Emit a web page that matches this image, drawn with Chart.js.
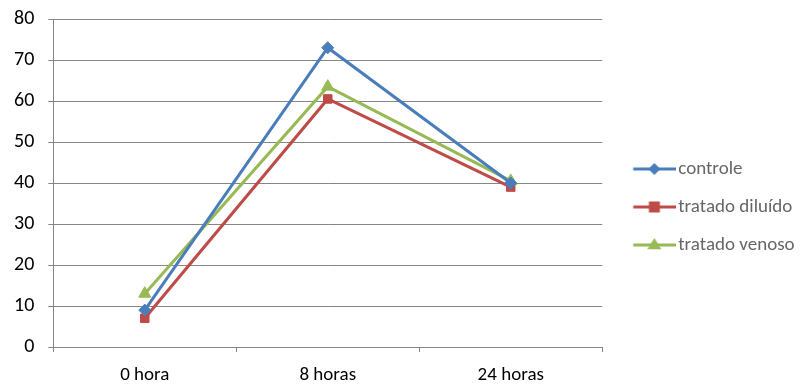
<!DOCTYPE html>
<html><head><meta charset="utf-8">
<script src="https://cdn.jsdelivr.net/npm/chart.js@4/dist/chart.umd.min.js"></script>
<style>html,body{margin:0;padding:0;background:#fff}#wrap{width:803px;height:387px}</style>
</head><body><div id="wrap"><canvas id="c" width="803" height="387"></canvas></div>
<script>
const categories = ["0 hora", "8 horas", "24 horas"];
const controle = [9, 73, 40];
const tratadoDiluido = [7, 60.5, 39];
const tratadoVenoso = [13, 63.5, 40.5];
const seriesNames = ["controle", "tratado diluído", "tratado venoso"];
const yTicks = [0, 10, 20, 30, 40, 50, 60, 70, 80];

const colors = ["#4a7ebb", "#be4b48", "#98b954"];
const styles = ["rectRot", "rect", "triangle"];
const radii = [6, 6, 7];
const FONT = 'Carlito, "Liberation Sans Narrow", "Noto Sans", sans-serif';

function legendIcon(i) {
  const W = 61, x0 = 18.75, cy = 9;
  const cv = document.createElement('canvas');
  cv.width = W; cv.height = 18;
  const g = cv.getContext('2d');
  g.strokeStyle = colors[i]; g.lineWidth = 3;
  g.beginPath(); g.moveTo(x0, cy); g.lineTo(W, cy); g.stroke();
  const cx = (x0 + W) / 2;
  g.fillStyle = colors[i];
  g.beginPath();
  const r = radii[i];
  if (i === 0) { g.moveTo(cx, cy - r); g.lineTo(cx + r, cy); g.lineTo(cx, cy + r); g.lineTo(cx - r, cy); }
  else if (i === 1) { g.rect(cx - 5.5, cy - 5.5, 11, 11); }
  else { g.moveTo(cx, cy - r); g.lineTo(cx + r, cy + r * 0.6); g.lineTo(cx - r, cy + r * 0.6); }
  g.closePath(); g.fill();
  return cv;
}

const data = [controle, tratadoDiluido, tratadoVenoso];
const datasets = data.map((d, i) => ({
  label: seriesNames[i],
  data: d,
  borderColor: colors[i],
  backgroundColor: colors[i],
  borderWidth: 3,
  pointStyle: styles[i],
  pointRadius: radii[i],
  pointBorderWidth: 1,
  pointBackgroundColor: colors[i],
  pointBorderColor: colors[i],
  tension: 0,
  fill: false
}));

const icons = [0, 1, 2].map(legendIcon);

new Chart(document.getElementById('c'), {
  type: 'line',
  data: { labels: categories, datasets },
  options: {
    responsive: false,
    animation: false,
    layout: { padding: { left: 0, top: 19, right: 0, bottom: 0 } },
    plugins: {
      tooltip: { enabled: false },
      legend: {
        position: 'right',
        align: 'center',
        title: { display: true, text: ' ', font: { size: 5 }, padding: { top: 1, bottom: 1 } },
        labels: {
          usePointStyle: true,
          pointStyleWidth: 47.5,
          padding: 19,
          color: '#000',
          font: { family: FONT, size: 19 },
          generateLabels: (chart) => chart.data.datasets.map((ds, i) => ({
            text: ds.label,
            pointStyle: icons[i],
            fillStyle: colors[i],
            strokeStyle: colors[i],
            lineWidth: 0,
            datasetIndex: i,
            hidden: false
          }))
        }
      }
    },
    scales: {
      x: {
        offset: true,
        afterFit: (s) => { s.height = 40; },
        grid: { display: true, drawOnChartArea: false, offset: true, color: '#868686', tickLength: 5 },
        border: { color: '#868686', width: 1 },
        ticks: { color: '#000', padding: 12, font: { family: FONT, size: 19 } }
      },
      y: {
        min: 0, max: 80,
        afterBuildTicks: (ax) => { ax.ticks = yTicks.map(v => ({ value: v })); },
        afterFit: (s) => { s.paddingTop = 0; s.paddingBottom = 0; },
        grid: { color: '#868686', tickLength: 5 },
        border: { color: '#868686', width: 1 },
        ticks: { color: '#000', padding: 14, font: { family: FONT, size: 20 } }
      }
    }
  }
});
</script></body></html>
